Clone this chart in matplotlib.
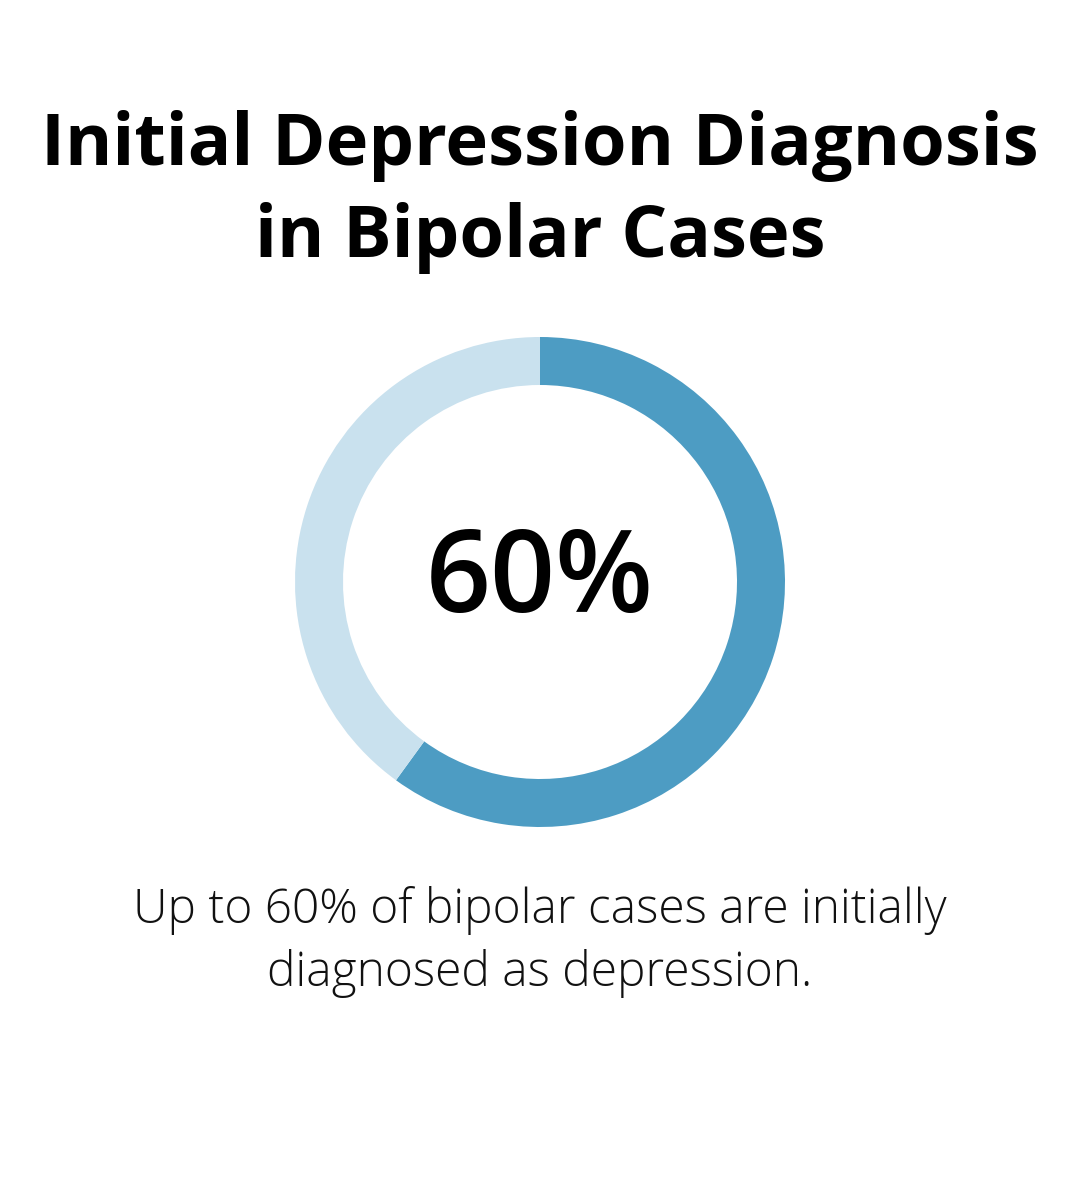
import matplotlib
matplotlib.use("Agg")
import matplotlib.pyplot as plt

labels = ["Initially diagnosed as depression", "Other"]
values = [60, 40]
colors = ["#4d9cc3", "#c9e1ee"]
title = "Initial Depression Diagnosis\nin Bipolar Cases"
center_label = "60%"
caption = "Up to 60% of bipolar cases are initially\ndiagnosed as depression."

W, H = 1080, 1184
fig = plt.figure(figsize=(W/100, H/100), dpi=100)
fig.patch.set_facecolor("white")

cx, cy, R = 540, 582, 245
half = 250
ax = fig.add_axes([(cx-half)/W, 1-(cy+half)/H, 2*half/W, 2*half/H])
ax.pie(values, colors=colors, startangle=90, counterclock=False, radius=R,
       wedgeprops=dict(width=48, edgecolor="none"))
ax.set_xlim(-half, half); ax.set_ylim(-half, half)
ax.set_aspect("equal"); ax.axis("off")
ax.text(0, 0, center_label, ha="center", va="center", fontsize=82,
        fontweight="semibold", family=["Open Sans", "DejaVu Sans"], color="black")

fig.text(0.5, 1-192/H, title, ha="center", va="center", fontsize=52,
         fontweight="bold", family=["Open Sans", "DejaVu Sans"],
         linespacing=1.36, color="black")
fig.text(0.5, 1-942/H, caption, ha="center", va="center", fontsize=34.5,
         fontweight="light", family=["Open Sans", "DejaVu Sans"],
         linespacing=1.38, color="#111111")

fig.savefig("out.png", dpi=100, facecolor="white")
